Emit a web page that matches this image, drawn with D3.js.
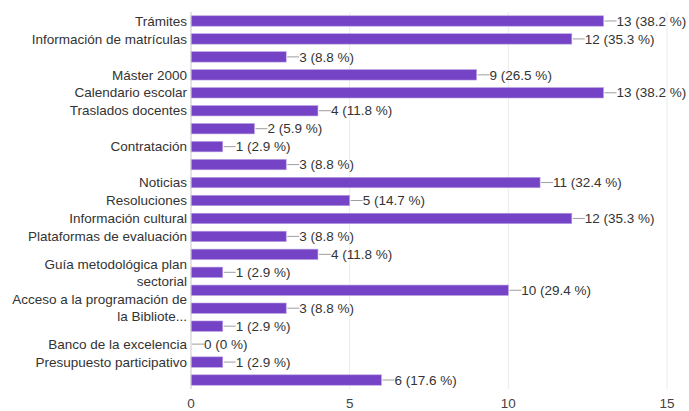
<!DOCTYPE html>
<html>
<head>
<meta charset="utf-8">
<script src="https://cdn.jsdelivr.net/npm/d3@7"></script>
<style>
  body { margin: 0; background: #fff; }
  text { font-family: Arial, "Liberation Sans", sans-serif; }
</style>
</head>
<body>
<div id="chart"></div>
<script>
// Categories (blank ones had their label hidden in the original)
const categories = [
  'Trámites', 'Información de matrículas', '', 'Máster 2000', 'Calendario escolar',
  'Traslados docentes', '', 'Contratación', '', 'Noticias', 'Resoluciones',
  'Información cultural', 'Plataformas de evaluación', '',
  'Guía metodológica plan|sectorial', '', 'Acceso a la programación de|la Bibliote...',
  '', 'Banco de la excelencia', 'Presupuesto participativo', ''
]
const counts = [13, 12, 3, 9, 13, 4, 2, 1, 3, 11, 5, 12, 3, 4, 1, 10, 3, 1, 0, 1, 6]
const percents = ['38.2', '35.3', '8.8', '26.5', '38.2', '11.8', '5.9', '2.9', '8.8', '32.4',
  '14.7', '35.3', '8.8', '11.8', '2.9', '29.4', '8.8', '2.9', '0', '2.9', '17.6']
const ticks = [0, 5, 10, 15]

const width = 689,
    height = 411,
    plotLeft = 191,
    plotRight = 667,
    plotTop = 12,
    plotBottom = 389

let svg = d3.select('#chart')
    .append('svg')
    .attr('width', width)
    .attr('height', height)

const x = d3.scaleLinear().domain([0, 15]).range([plotLeft, plotRight])
const y = d3.scaleBand()
    .domain(d3.range(categories.length))
    .range([plotTop, plotBottom])
    .paddingInner(0.42)
    .paddingOuter(0.21)

// gridlines
svg.selectAll('line.grid')
    .data(ticks.slice(1))
    .enter()
    .append('line')
    .attr('x1', d => x(d)).attr('x2', d => x(d))
    .attr('y1', plotTop).attr('y2', plotBottom)
    .attr('stroke', '#ebebeb')

// bottom tick labels
svg.selectAll('text.tick')
    .data(ticks)
    .enter()
    .append('text')
    .attr('x', d => x(d))
    .attr('y', 408)
    .attr('text-anchor', 'middle')
    .attr('font-size', 13.5)
    .attr('fill', '#444')
    .text(d => d)

// bars
svg.selectAll('rect.bar')
    .data(counts)
    .enter()
    .append('rect')
    .attr('x', x(0))
    .attr('y', (d, i) => y(i))
    .attr('width', d => x(d) - x(0))
    .attr('height', y.bandwidth())
    .attr('fill', '#7443c6')
    .attr('stroke', '#b9a0e0')
    .attr('stroke-width', 0.6)

// zero axis
svg.append('line')
    .attr('x1', x(0)).attr('x2', x(0))
    .attr('y1', plotTop).attr('y2', plotBottom)
    .attr('stroke', '#c8c8c8')
    .attr('stroke-width', 1)

// leader lines + value labels
counts.forEach((d, i) => {
  const cy = y(i) + y.bandwidth() / 2
  svg.append('line')
      .attr('x1', x(d) + 1).attr('x2', x(d) + 13)
      .attr('y1', cy).attr('y2', cy)
      .attr('stroke', '#9e9e9e')
  svg.append('text')
      .attr('x', x(d) + 13)
      .attr('y', cy + 4.7)
      .attr('font-size', 13.5)
      .attr('fill', '#333')
      .text(d + ' (' + percents[i] + ' %)')
})

// category labels
categories.forEach((c, i) => {
  if (!c) return
  const lines = c.split('|')
  const cy = y(i) + y.bandwidth() / 2
  const t = svg.append('text')
      .attr('text-anchor', 'end')
      .attr('font-size', 13.5)
      .attr('fill', '#333')
  lines.forEach((l, j) => {
    t.append('tspan')
        .attr('x', plotLeft - 4)
        .attr('y', cy + 4.7 + (j - (lines.length - 1) / 2) * 17)
        .text(l)
  })
})
</script>
</body>
</html>
